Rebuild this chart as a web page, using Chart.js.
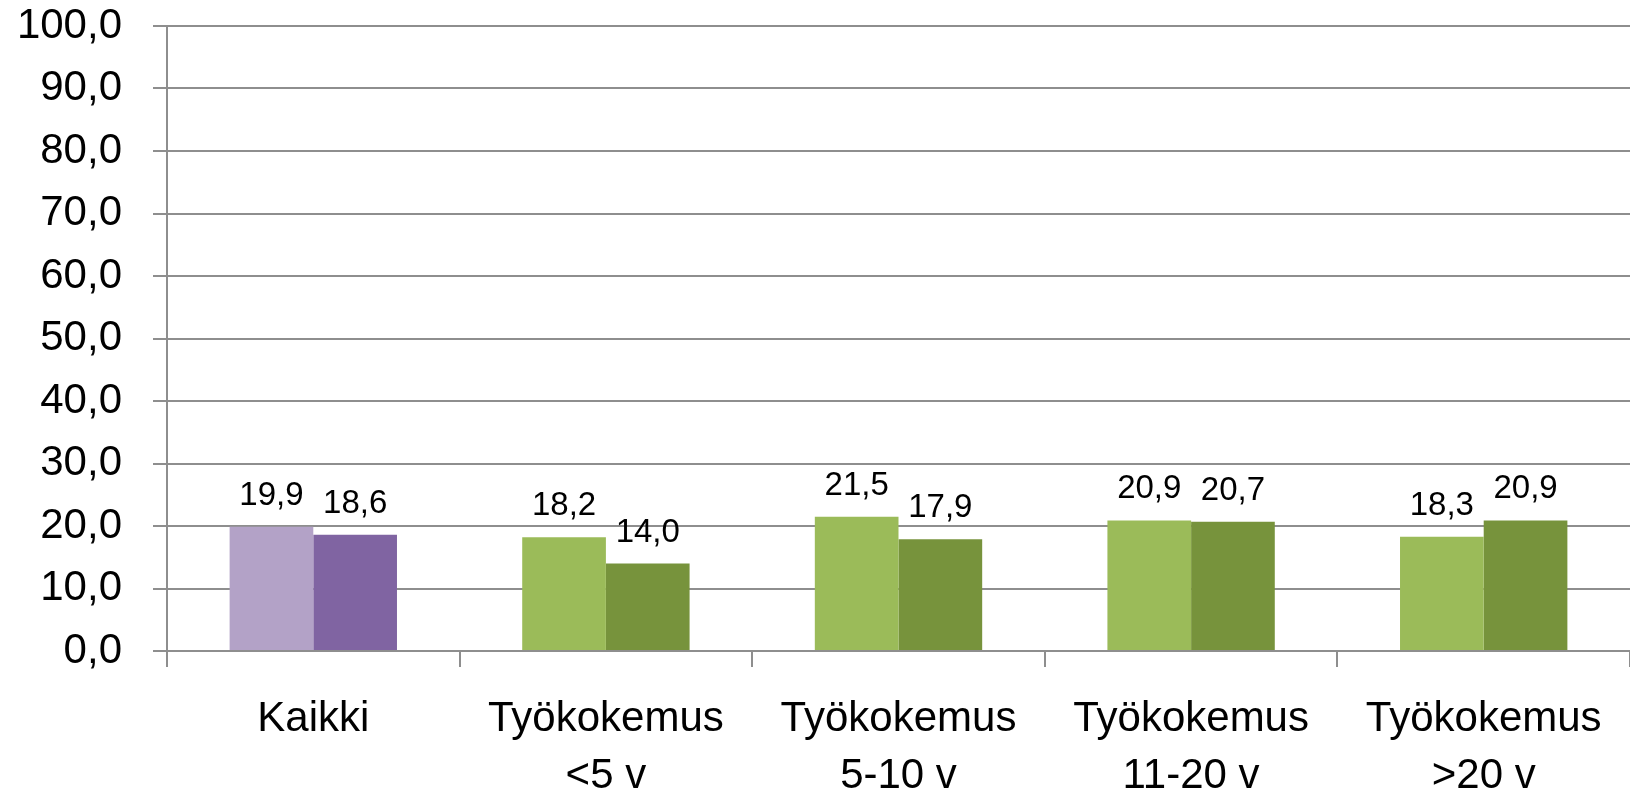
<!DOCTYPE html>
<html>
<head>
<meta charset="utf-8">
<script src="https://cdn.jsdelivr.net/npm/chart.js@4/dist/chart.umd.min.js"></script>
<style>
  html, body { margin: 0; padding: 0; background: #fff; }
  #wrap { width: 1630px; height: 790px; }
</style>
</head>
<body>
<div id="wrap"><canvas id="chart" width="1630" height="790"></canvas></div>
<script>
// categories and values
const categories = [
    ['Kaikki'],
    ['Työkokemus', '<5 v'],
    ['Työkokemus', '5-10 v'],
    ['Työkokemus', '11-20 v'],
    ['Työkokemus', '>20 v']
];
const firstValues = [19.9, 18.2, 21.5, 20.9, 18.3];
const secondValues = [18.6, 14.0, 17.9, 20.7, 20.9];
const yTicks = [0, 10, 20, 30, 40, 50, 60, 70, 80, 90, 100];

// colours: first group purple, the rest green
const firstColors = ['#b3a2c7', '#9bbb59', '#9bbb59', '#9bbb59', '#9bbb59'];
const secondColors = ['#8064a2', '#77933c', '#77933c', '#77933c', '#77933c'];

const fontFamily = '"Liberation Sans", Arial, sans-serif';
const gridColor = '#8e8e8e';

function fmt(v) {
    return v.toFixed(1).replace('.', ',');
}

// draws the value above each bar
const valueLabels = {
    id: 'valueLabels',
    afterDatasetsDraw(chart) {
        const ctx = chart.ctx;
        ctx.save();
        ctx.font = '33px ' + fontFamily;
        ctx.fillStyle = '#000';
        ctx.textAlign = 'center';
        ctx.textBaseline = 'alphabetic';
        chart.data.datasets.forEach((ds, i) => {
            const meta = chart.getDatasetMeta(i);
            meta.data.forEach((bar, j) => {
                ctx.fillText(fmt(ds.data[j]), bar.x, bar.y - 22);
            });
        });
        ctx.restore();
    }
};

const ctx = document.getElementById('chart').getContext('2d');
const myChart = new Chart(ctx, {
    type: 'bar',
    data: {
        labels: categories,
        datasets: [{
            data: firstValues,
            backgroundColor: firstColors,
            borderWidth: 0,
            categoryPercentage: 0.572,
            barPercentage: 1
        }, {
            data: secondValues,
            backgroundColor: secondColors,
            borderWidth: 0,
            categoryPercentage: 0.572,
            barPercentage: 1
        }]
    },
    options: {
        responsive: false,
        animation: false,
        layout: { padding: 0 },
        plugins: {
            legend: { display: false },
            tooltip: { enabled: false }
        },
        scales: {
            x: {
                grid: {
                    drawOnChartArea: false,
                    drawTicks: true,
                    tickLength: 16,
                    color: gridColor,
                    lineWidth: 2,
                    offset: true
                },
                border: { display: false },
                ticks: {
                    color: '#000',
                    padding: 24,
                    maxRotation: 0,
                    autoSkip: false,
                    font: { family: fontFamily, size: 42, lineHeight: 1.36 }
                },
                afterFit(scale) {
                    scale.height = 139;
                    scale.paddingLeft = 0;
                    scale.paddingRight = 0;
                }
            },
            y: {
                min: 0,
                max: 100,
                afterBuildTicks(scale) {
                    scale.ticks = yTicks.map(v => ({ value: v }));
                },
                grid: {
                    color: gridColor,
                    lineWidth: 2,
                    tickLength: 14
                },
                border: { display: true, color: gridColor, width: 2 },
                ticks: {
                    color: '#000',
                    padding: 31,
                    font: { family: fontFamily, size: 42 },
                    callback: v => fmt(v)
                },
                afterFit(scale) {
                    scale.width = 167;
                    scale.paddingTop = 26;
                    scale.paddingBottom = 0;
                }
            }
        }
    },
    plugins: [valueLabels]
});
</script>
</body>
</html>
